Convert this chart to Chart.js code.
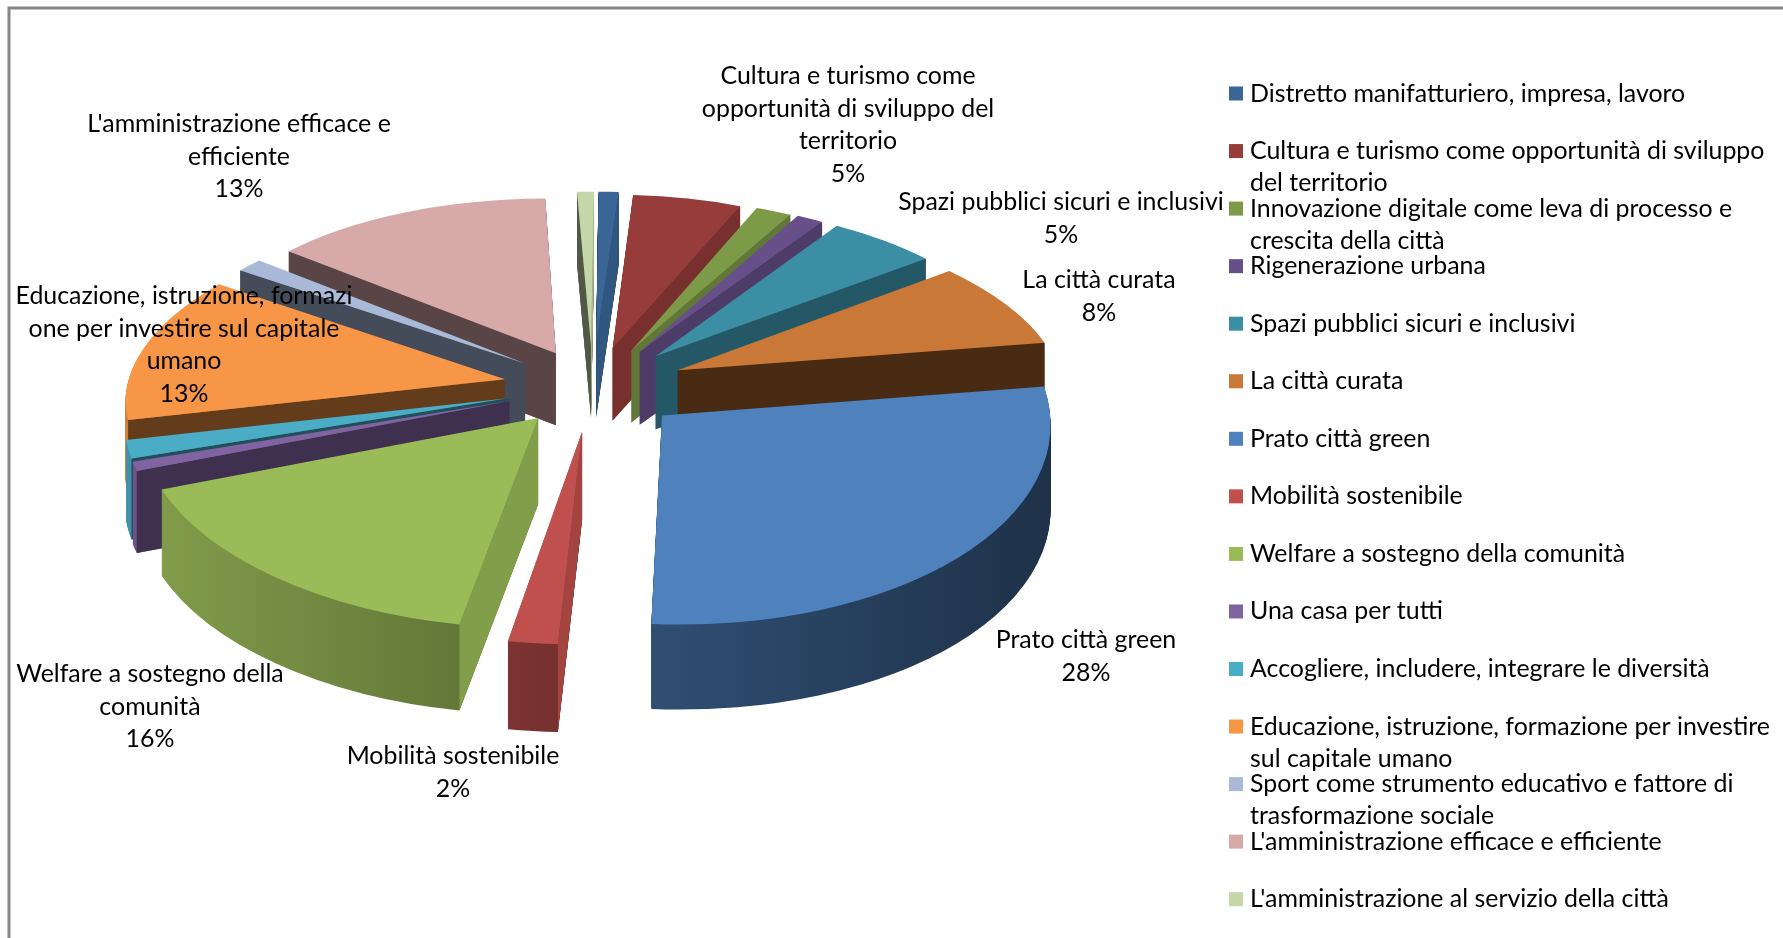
<!DOCTYPE html>
<html lang="it">
<head>
  <meta charset="UTF-8">
  <title>Grafico a torta</title>
  <script src="https://cdn.jsdelivr.net/npm/chart.js"></script>
  <style>
    html, body { margin: 0; padding: 0; background: #ffffff; }
    canvas { display: block; }
  </style>
</head>
<body>
  <canvas id="torta" width="1783" height="938"></canvas>

  <script>
    // dati
    const categories = [
      'Distretto manifatturiero, impresa, lavoro',
      'Cultura e turismo come opportunità di sviluppo del territorio',
      'Innovazione digitale come leva di processo e crescita della città',
      'Rigenerazione urbana',
      'Spazi pubblici sicuri e inclusivi',
      'La città curata',
      'Prato città green',
      'Mobilità sostenibile',
      'Welfare a sostegno della comunità',
      'Una casa per tutti',
      'Accogliere, includere, integrare le diversità',
      'Educazione, istruzione, formazione per investire sul capitale umano',
      'Sport come strumento educativo e fattore di trasformazione sociale',
      "L'amministrazione efficace e efficiente",
      "L'amministrazione al servizio della città"
    ];
    const values = [1, 5.35, 1.75, 1.3, 5.2, 7.8, 28.45, 1.8, 16.45, 0.8, 1.6, 13.3, 1.3, 13.45, 0.8];
    const colors = ['#3a6597', '#963c3b', '#7d9a48', '#67508a', '#3c8ea5', '#c97837', '#4f81bd', '#c0504d',
      '#9bbb59', '#8064a2', '#4bacc6', '#f79646', '#a9bad8', '#d8a9a9', '#c5d6a9'];
    // esplosione di ogni fetta, in pixel
    const explosions = [94, 88, 90, 92, 94, 94, 91, 94, 85, 88, 88, 90, 86, 84, 94];

    // righe della legenda (a capo come nell'originale)
    const legendLines = [
      ['Distretto manifatturiero, impresa, lavoro'],
      ['Cultura e turismo come opportunità di sviluppo', 'del territorio'],
      ['Innovazione digitale come leva di processo e', 'crescita della città'],
      ['Rigenerazione urbana'],
      ['Spazi pubblici sicuri e inclusivi'],
      ['La città curata'],
      ['Prato città green'],
      ['Mobilità sostenibile'],
      ['Welfare a sostegno della comunità'],
      ['Una casa per tutti'],
      ['Accogliere, includere, integrare le diversità'],
      ['Educazione, istruzione, formazione per investire', 'sul capitale umano'],
      ['Sport come strumento educativo e fattore di', 'trasformazione sociale'],
      ["L'amministrazione efficace e efficiente"],
      ["L'amministrazione al servizio della città"]
    ];

    // etichette: indice della fetta e righe di testo
    const labelSlices = [1, 4, 5, 6, 7, 8, 11, 13];
    const labelLines = [
      ['Cultura e turismo come', 'opportunità di sviluppo del', 'territorio'],
      ['Spazi pubblici sicuri e inclusivi'],
      ['La città curata'],
      ['Prato città green'],
      ['Mobilità sostenibile'],
      ['Welfare a sostegno della', 'comunità'],
      ['Educazione, istruzione, formazi', 'one per investire sul capitale', 'umano'],
      ["L'amministrazione efficace e", 'efficiente']
    ];
    // centro della prima riga di ogni etichetta
    const labelX = [848, 1061, 1099, 1086, 453, 150, 184, 239];
    const labelY = [76, 202, 280, 640, 756, 674, 296, 124];

    // parametri della vista 3D
    const TILT = 0.46;
    const PERSP = 0.111;
    const PERSP_X = 0.16;
    const LEFT_SHRINK = 0.022;
    const DEPTH = 79;
    const FONT = '24.9px Lato, "Open Sans", sans-serif';

    function shade(hex, k) {
      const n = parseInt(hex.slice(1), 16);
      const c = [n >> 16, (n >> 8) & 255, n & 255].map(v => Math.round(v * k));
      return `rgb(${c[0]},${c[1]},${c[2]})`;
    }

    // mappa affine del settore sul piano inclinato
    function sliceGeom(arc, explode) {
      const { x, y, startAngle: a0, endAngle: a1, outerRadius: R } = arc;
      const mid = (a0 + a1) / 2;
      const ex = explode * Math.cos(mid);
      const ey = explode * Math.sin(mid);
      const proj = (dx, dy) => {
        const px = dx + ex, py = dy + ey;
        const fy = 1 / (1 - PERSP * py / R);
        // a destra la prospettiva orizzontale è più forte, a sinistra si stringe un po'
        const fx = px > 0
          ? 1 / (1 - PERSP_X * py / R)
          : fy * (1 + LEFT_SHRINK * px / R);
        return { x: x + px * fx, y: y + py * TILT * fy };
      };
      const u0 = [R * Math.cos(a0), R * Math.sin(a0)];
      const u1 = [R * Math.cos(a1), R * Math.sin(a1)];
      const tip = proj(0, 0), p0 = proj(u0[0], u0[1]), p1 = proj(u1[0], u1[1]);
      const det = u0[0] * u1[1] - u0[1] * u1[0];
      const a = ((p0.x - tip.x) * u1[1] - (p1.x - tip.x) * u0[1]) / det;
      const c = ((p1.x - tip.x) * u0[0] - (p0.x - tip.x) * u1[0]) / det;
      const b = ((p0.y - tip.y) * u1[1] - (p1.y - tip.y) * u0[1]) / det;
      const d = ((p1.y - tip.y) * u0[0] - (p0.y - tip.y) * u1[0]) / det;
      const fMid = 1 / (1 - PERSP * (ey + 0.7 * R * Math.sin(mid)) / R);
      return {
        tip, p0, p1, mid, fMid, a0, a1,
        m: [a, b, c, d, tip.x - a * x - c * y, tip.y - b * x - d * y]
      };
    }

    function drawWith(arc, ctx, fill) {
      const saved = arc.options.backgroundColor;
      arc.options.backgroundColor = fill;
      arc.draw(ctx);
      arc.options.backgroundColor = saved;
    }

    // luminosità delle facce di taglio secondo l'angolo dello spigolo
    function faceLight(angle) {
      let deg = ((angle + Math.PI / 2) * 180 / Math.PI) % 360;
      if (deg < 0) deg += 360;
      if (deg > 270) return 0.41;
      return 0.27 + 0.58 * Math.abs(Math.cos(deg * Math.PI / 180));
    }

    function drawFace(ctx, t, p, other, depth, color) {
      const side = (p.x - t.x) * (other.y - t.y) - (p.y - t.y) * (other.x - t.x);
      if ((p.x - t.x) * side >= 0) return;
      ctx.fillStyle = color;
      ctx.beginPath();
      ctx.moveTo(t.x, t.y);
      ctx.lineTo(p.x, p.y);
      ctx.lineTo(p.x, p.y + depth);
      ctx.lineTo(t.x, t.y + depth);
      ctx.closePath();
      ctx.fill();
    }

    const pie3d = {
      id: 'pie3d',
      beforeDraw(chart) {
        const ctx = chart.ctx;
        ctx.save();
        ctx.strokeStyle = '#868686';
        ctx.lineWidth = 3;
        ctx.beginPath();
        ctx.moveTo(9, chart.height);
        ctx.lineTo(9, 8);
        ctx.lineTo(chart.width, 8);
        ctx.stroke();
        ctx.restore();
      },
      beforeDatasetDraw(chart) {
        const ctx = chart.ctx;
        const arcs = chart.getDatasetMeta(0).data;
        const order = arcs.map((arc, i) => ({ arc, i, g: sliceGeom(arc, explosions[i]) }))
          .sort((p, q) => Math.sin(p.g.mid) - Math.sin(q.g.mid));
        order.forEach(({ arc, i, g }) => {
          const base = colors[i];
          const depth = Math.round(DEPTH * g.fMid);
          const grad = ctx.createLinearGradient(arc.x - arc.outerRadius, 0, arc.x + arc.outerRadius, 0);
          grad.addColorStop(0, shade(base, 0.85));
          grad.addColorStop(0.5, shade(base, 0.6));
          grad.addColorStop(1, shade(base, 0.38));
          for (let k = depth; k >= 1; k--) {
            ctx.save();
            ctx.translate(0, k);
            ctx.transform(...g.m);
            drawWith(arc, ctx, grad);
            ctx.restore();
          }
          drawFace(ctx, g.tip, g.p0, g.p1, depth, shade(base, faceLight(g.a0)));
          drawFace(ctx, g.tip, g.p1, g.p0, depth, shade(base, faceLight(g.a1)));
          ctx.save();
          ctx.transform(...g.m);
          drawWith(arc, ctx, base);
          ctx.restore();
        });
        return false;
      },
      afterDraw(chart) {
        const ctx = chart.ctx;
        const total = values.reduce((s, v) => s + v, 0);
        ctx.save();
        ctx.font = FONT;
        ctx.fillStyle = '#000000';
        ctx.textBaseline = 'middle';

        // etichette delle fette
        ctx.textAlign = 'center';
        labelSlices.forEach((s, n) => {
          const lines = labelLines[n].concat(Math.round(values[s] / total * 100) + '%');
          lines.forEach((t, j) => ctx.fillText(t, labelX[n], labelY[n] + j * 32.5));
        });

        // legenda
        ctx.textAlign = 'left';
        legendLines.forEach((lines, i) => {
          const y = 93.5 + i * 57.55;
          ctx.fillStyle = colors[i];
          ctx.fillRect(1229, y - 7, 14, 14);
          ctx.fillStyle = '#000000';
          lines.forEach((t, j) => ctx.fillText(t, 1250, y + j * 32));
        });
        ctx.restore();
      }
    };

    new Chart(document.getElementById('torta'), {
      type: 'pie',
      data: {
        labels: categories,
        datasets: [{ data: values, backgroundColor: colors, borderWidth: 0 }]
      },
      options: {
        responsive: false,
        animation: false,
        rotation: 0.5,
        radius: 389,
        layout: { padding: { right: 598, bottom: 164 } },
        plugins: { legend: { display: false }, tooltip: { enabled: false } }
      },
      plugins: [pie3d]
    });
  </script>
</body>
</html>
